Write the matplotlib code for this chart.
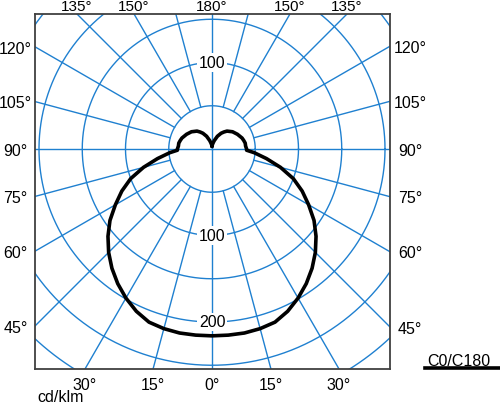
import numpy as np
import matplotlib
matplotlib.use("Agg")
import matplotlib.pyplot as plt
from matplotlib.lines import Line2D

plt.rcParams['font.family'] = ['Liberation Sans', 'DejaVu Sans']

# ---- data (cd/klm, C0/C180 plane, gamma in degrees) ----
gamma = [0, 5, 10, 15, 20, 25, 30, 35, 40, 45, 50, 55, 60, 65, 70, 75, 80, 85, 88, 90,
         95, 100, 105, 110, 116, 120, 130, 140, 145, 150, 157, 165, 170, 175, 180]
intensity = [216, 216, 216, 215, 213, 207, 199, 190, 180, 169, 157, 144, 129, 115, 100, 82, 64, 49, 40, 40,
             39, 39, 38, 37, 35, 34, 31, 27, 24, 21, 16, 10, 7, 5, 3]

ring_values = [50, 100, 150, 200, 250, 300, 350]
ring_labels = [(180, "100"), (0, "100"), (0, "200")]   # (gamma, text)
ring_label_values = [100, 100, 200]
spoke_angles = list(range(0, 360, 15))
top_labels = [135, 150, 180]
side_labels = [45, 60, 75, 90, 105, 120]
bottom_labels = [0, 15, 30]
unit_label = "cd/klm"
legend_label = "C0/C180"

grid_color = "#1f80d0"
fs = 11.5

W, H = 500, 406
fig = plt.figure(figsize=(W / 100, H / 100), dpi=100)
# pixel layout of the square frame
L, R, T, B = 35, 390, 15, 370
cx, cy = 212, 150
s = 0.865  # px per cd/klm
ax = fig.add_axes([L / W, (H - B) / H, (R - L) / W, (B - T) / H])
xl, xr = -(cx - L) / s, (R - cx) / s
yb, yt = -(B - cy) / s, (cy - T) / s
ax.set_xlim(xl, xr)
ax.set_ylim(yb, yt)
ax.set_xticks([])
ax.set_yticks([])
for sp in ax.spines.values():
    sp.set_color("#404040")
    sp.set_linewidth(1.3)

# rings
t = np.linspace(0, 2 * np.pi, 721)
for rv in ring_values:
    ax.plot(rv * np.cos(t), rv * np.sin(t), color=grid_color, lw=1.0, zorder=1)

# spokes (gamma measured from straight down)
rmax = 600
for g in spoke_angles:
    gr = np.radians(g)
    r0 = 0 if g % 90 == 0 else 50
    ax.plot([r0 * np.sin(gr), rmax * np.sin(gr)], [-r0 * np.cos(gr), -rmax * np.cos(gr)],
            color=grid_color, lw=1.0, zorder=1)

# ring value labels
for (g, txt), rv in zip(ring_labels, ring_label_values):
    gr = np.radians(g)
    ax.text(rv * np.sin(gr), -rv * np.cos(gr), txt, fontsize=fs, ha="center", va="center",
            zorder=3, bbox=dict(boxstyle="square,pad=0.12", fc="white", ec="none"))

# intensity curve: C180 on the left, C0 on the right
g_arr = np.radians(np.array(gamma, dtype=float))
i_arr = np.array(intensity, dtype=float)
x_left = -i_arr[::-1] * np.sin(g_arr[::-1])
y_left = -i_arr[::-1] * np.cos(g_arr[::-1])
x_right = i_arr * np.sin(g_arr)
y_right = -i_arr * np.cos(g_arr)
xs = np.concatenate([x_left, x_right[1:]])
ys = np.concatenate([y_left, y_right[1:]])
ax.plot(xs, ys, color="black", lw=2.6, zorder=4, solid_joinstyle="round", solid_capstyle="round")

px = 0.72  # points per pixel
# top labels (top of text box at the figure's top edge)
for g in top_labels:
    dx = yt * np.tan(np.radians(180 - g))
    for sgn in ([1] if g == 180 else [-1, 1]):
        ax.annotate(f"{g}°", xy=(sgn * dx, yt), xycoords="data",
                    xytext=(0, (T - 0.5) * px), textcoords="offset points",
                    ha="center", va="top", fontsize=11, annotation_clip=False)
# side labels
for g in side_labels:
    gr = np.radians(g)
    yl = xl * np.cos(gr) / np.sin(gr)
    yr_ = -xr * np.cos(gr) / np.sin(gr)
    ax.annotate(f"{g}°", xy=(xl, yl), xytext=(-19.5 * px, -5.7 * px), textcoords="offset points",
                ha="center", va="baseline", fontsize=fs, annotation_clip=False)
    ax.annotate(f"{g}°", xy=(xr, yr_), xytext=(20 * px, -5.7 * px), textcoords="offset points",
                ha="center", va="baseline", fontsize=fs, annotation_clip=False)
# bottom labels
for g in bottom_labels:
    dx = -yb * np.tan(np.radians(g))
    for sgn in ([1] if g == 0 else [-1, 1]):
        ax.annotate(f"{g}°", xy=(sgn * dx, yb), xytext=(0, -20 * px), textcoords="offset points",
                    ha="center", va="baseline", fontsize=fs, annotation_clip=False)

fig.text(37 / W, 1.0 / H, unit_label, fontsize=fs, ha="left", va="bottom")
fig.text(427 / W, (H - 365.7) / H, legend_label, fontsize=fs, ha="left", va="baseline")
fig.add_artist(Line2D([425 / W, 499 / W], [(H - 368.5) / H] * 2, transform=fig.transFigure,
                      color="black", lw=2.6))

fig.savefig("out.png", dpi=100)
